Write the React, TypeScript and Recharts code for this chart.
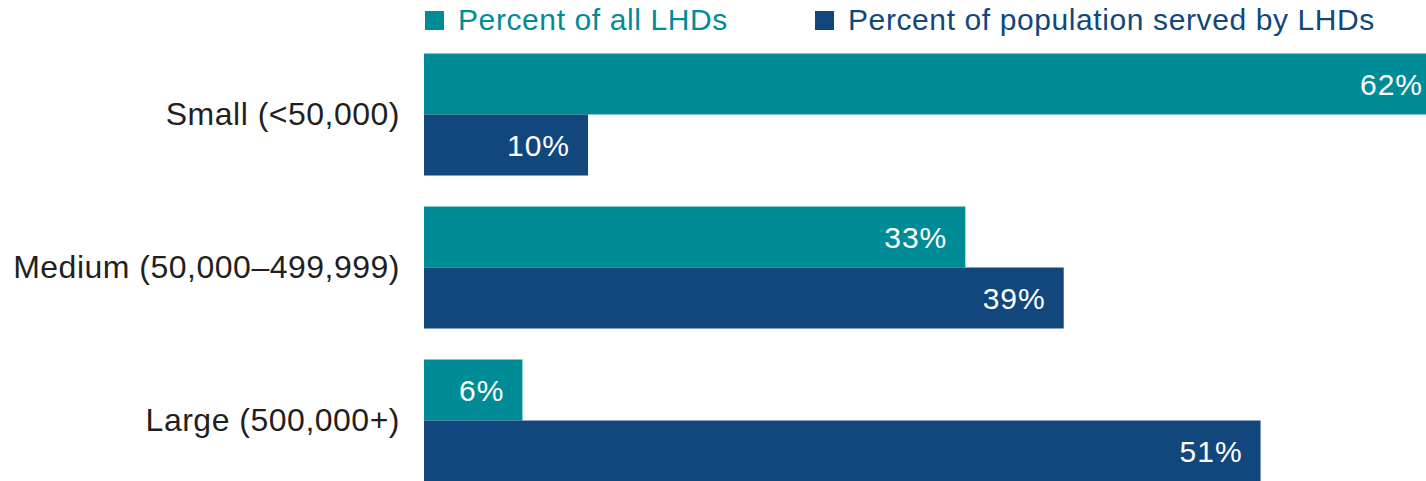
import { BarChart, Bar, XAxis, YAxis, LabelList } from 'recharts'

const categories = ['Small (<50,000)', 'Medium (50,000–499,999)', 'Large (500,000+)']
const pctAllLhds = [62, 33, 6]
const pctPopulation = [10, 39, 51]

const seriesNames = ['Percent of all LHDs', 'Percent of population served by LHDs']
const seriesColors = ['#008C96', '#11477C']
const legendLeft = [425, 815]

const data = categories.map((name, i) => ({
  name,
  all: pctAllLhds[i],
  pop: pctPopulation[i],
}))

const font = '"Liberation Sans", Arial, Helvetica, sans-serif'
const pct = (v: any) => `${v}%`

export default function App() {
  return (
    <div style={{ position: 'absolute', left: 0, top: 0, width: 1426, height: 481, overflow: 'hidden', background: '#fff', fontFamily: font }}>
      {seriesNames.map((s, i) => (
        <div
          key={s}
          style={{
            position: 'absolute', top: 3, left: legendLeft[i], display: 'flex', alignItems: 'center',
            whiteSpace: 'nowrap', fontSize: 30, letterSpacing: 0.6, color: seriesColors[i],
          }}
        >
          <span style={{ display: 'inline-block', width: 19, height: 19, background: seriesColors[i], marginRight: 14 }} />
          {s}
        </div>
      ))}
      <BarChart
        width={1441}
        height={500}
        data={data}
        layout="vertical"
        margin={{ top: 37.5, right: 0, bottom: 3.5, left: 0 }}
        barGap={0}
      >
        <XAxis type="number" domain={[0, 62]} hide />
        <YAxis
          type="category"
          dataKey="name"
          width={424}
          axisLine={false}
          tickLine={false}
          tickSize={0}
          tickMargin={24}
          tick={{ fill: '#231F20', fontSize: 32, fontFamily: font, letterSpacing: 0.5 }}
        />
        <Bar dataKey="all" fill={seriesColors[0]} barSize={61} isAnimationActive={false}>
          <LabelList dataKey="all" position="insideRight" offset={18} fill="#fff" fontSize={30} fontFamily={font} letterSpacing={1} formatter={pct} />
        </Bar>
        <Bar dataKey="pop" fill={seriesColors[1]} barSize={61} isAnimationActive={false}>
          <LabelList dataKey="pop" position="insideRight" offset={18} fill="#fff" fontSize={30} fontFamily={font} letterSpacing={1} formatter={pct} />
        </Bar>
      </BarChart>
    </div>
  )
}
